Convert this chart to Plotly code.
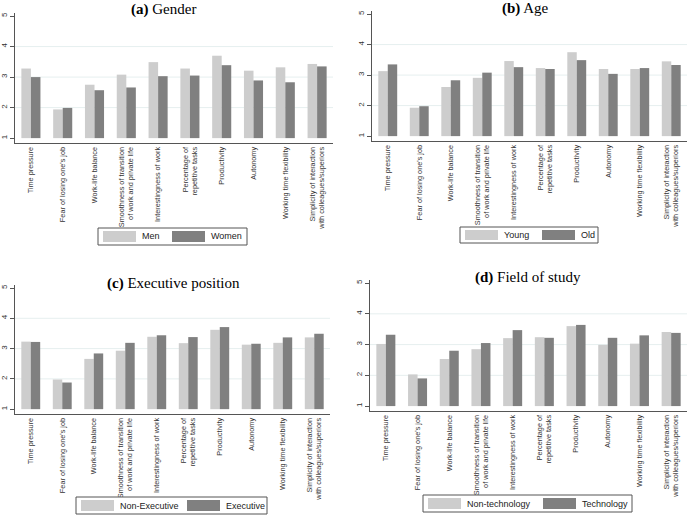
import plotly.graph_objects as go

categories = [
    "Time pressure",
    "Fear of losing one's job",
    "Work-life balance",
    "Smoothness of transition<br>of work and private life",
    "Interestingness of work",
    "Percentage of<br>repetitive tasks",
    "Productivity",
    "Autonomy",
    "Working time flexibility",
    "Simplicity of interaction<br>with colleagues/superiors",
]

# (a) Gender
men = [3.28, 1.94, 2.75, 3.08, 3.49, 3.28, 3.70, 3.21, 3.32, 3.43]
women = [3.00, 1.99, 2.57, 2.66, 3.03, 3.05, 3.39, 2.89, 2.83, 3.35]
# (b) Age
young = [3.13, 1.93, 2.61, 2.91, 3.46, 3.23, 3.75, 3.20, 3.20, 3.45]
old = [3.35, 1.98, 2.83, 3.08, 3.26, 3.20, 3.49, 3.04, 3.23, 3.33]
# (c) Executive position
non_exec = [3.23, 1.98, 2.66, 2.93, 3.39, 3.18, 3.62, 3.13, 3.19, 3.37]
execu = [3.22, 1.88, 2.84, 3.19, 3.44, 3.38, 3.71, 3.16, 3.37, 3.49]
# (d) Field of study
non_tech = [3.02, 2.03, 2.53, 2.85, 3.21, 3.24, 3.60, 2.99, 3.03, 3.41]
tech = [3.32, 1.90, 2.80, 3.05, 3.47, 3.22, 3.64, 3.22, 3.30, 3.38]

panels = [
    ("a", "Gender", ["Men", "Women"], men, women),
    ("b", "Age", ["Young", "Old"], young, old),
    ("c", "Executive position", ["Non-Executive", "Executive"], non_exec, execu),
    ("d", "Field of study", ["Non-technology", "Technology"], non_tech, tech),
]

W, H = 690, 515
LIGHT, DARK = "#cdcdcd", "#808080"
AXIS = "#555555"
GRID = "#e6efef"


def px(x):
    return x / W


def py(y):
    return 1 - y / H


# plot area (pixels): x0, x1, top, bottom
boxes = [
    (15, 333, 13, 143),
    (372, 687, 11, 141),
    (15, 330, 285, 414),
    (370, 687, 280, 411),
]
# title centre
titles_pos = [(163, 10), (525, 8), (173, 283), (528, 277)]
# legend box x0, x1, y0, y1, second swatch x
legends = [
    (98, 247, 228, 245, 172),
    (460, 598, 227, 243, 542),
    (76, 267, 497, 514, 187),
    (423, 632, 495, 512, 543),
]

fig = go.Figure()
shapes, annots = [], []

for i, (letter, name, series, v1, v2) in enumerate(panels):
    n = "" if i == 0 else str(i + 1)
    xa, ya = "x" + n, "y" + n
    for vals, col, lab in [(v1, LIGHT, series[0]), (v2, DARK, series[1])]:
        fig.add_trace(go.Bar(
            x=categories, y=[v - 1 for v in vals], base=1,
            marker=dict(color=col, line=dict(width=0)),
            name=lab, showlegend=False, xaxis=xa, yaxis=ya,
            offsetgroup=lab == series[1] and "b" or "a",
        ))
    x0, x1, top, bot = boxes[i]
    xkey = "xaxis" + n
    ykey = "yaxis" + n
    fig.layout[xkey] = dict(
        domain=[px(x0), px(x1)], anchor=ya, range=[-0.5, 9.5],
        showline=True, linecolor=AXIS, linewidth=1, ticks="",
        tickangle=-90,
        tickfont=dict(family="Liberation Sans", size=7.3, color="#333"),
        showgrid=False, zeroline=False, fixedrange=True,
    )
    fig.layout[ykey] = dict(
        domain=[py(bot), py(top)], anchor=xa, range=[0.84, 5.1],
        tickvals=[1, 2, 3, 4, 5], ticks="outside", ticklen=4, tickcolor=AXIS,
        tickangle=-90, tickfont=dict(family="Liberation Sans", size=8, color="#333"),
        showline=True, linecolor=AXIS, linewidth=1,
        showgrid=False, zeroline=False, fixedrange=True,
    )
    for g in [2, 3, 4]:
        shapes.append(dict(type="line", xref=xa + " domain", yref=ya,
                           x0=0, x1=1, y0=g, y1=g, layer="below",
                           line=dict(color=GRID, width=1)))
    tx, ty = titles_pos[i]
    annots.append(dict(
        text=f"<b>({letter})</b> {name}", xref="paper", yref="paper",
        x=px(tx), y=py(ty), showarrow=False, xanchor="center", yanchor="middle",
        font=dict(family="Liberation Serif", size=15, color="black"),
    ))
    # legend
    lx0, lx1, ly0, ly1, s2 = legends[i]
    shapes.append(dict(type="rect", xref="paper", yref="paper",
                       x0=px(lx0), x1=px(lx1), y0=py(ly1), y1=py(ly0),
                       line=dict(color=AXIS, width=1), fillcolor="white"))
    for sx, col, lab in [(lx0 + 5, LIGHT, series[0]), (s2, DARK, series[1])]:
        shapes.append(dict(type="rect", xref="paper", yref="paper",
                           x0=px(sx), x1=px(sx + 33), y0=py(ly1 - 3), y1=py(ly0 + 3),
                           line=dict(width=0), fillcolor=col))
        annots.append(dict(
            text=lab, xref="paper", yref="paper", x=px(sx + 37), y=py((ly0 + ly1) / 2),
            showarrow=False, xanchor="left", yanchor="middle",
            font=dict(family="Liberation Sans", size=9, color="#222"),
        ))

fig.update_layout(
    width=W, height=H, margin=dict(l=0, r=0, t=0, b=0),
    paper_bgcolor="white", plot_bgcolor="white",
    barmode="group", bargap=0.4, bargroupgap=0,
    shapes=shapes, annotations=annots, showlegend=False,
)

# page body has an 8px default margin; drop it so the figure fills the window
fig.write_html("out.html", config={"displayModeBar": False},
               post_script="document.body.style.margin='0';")
